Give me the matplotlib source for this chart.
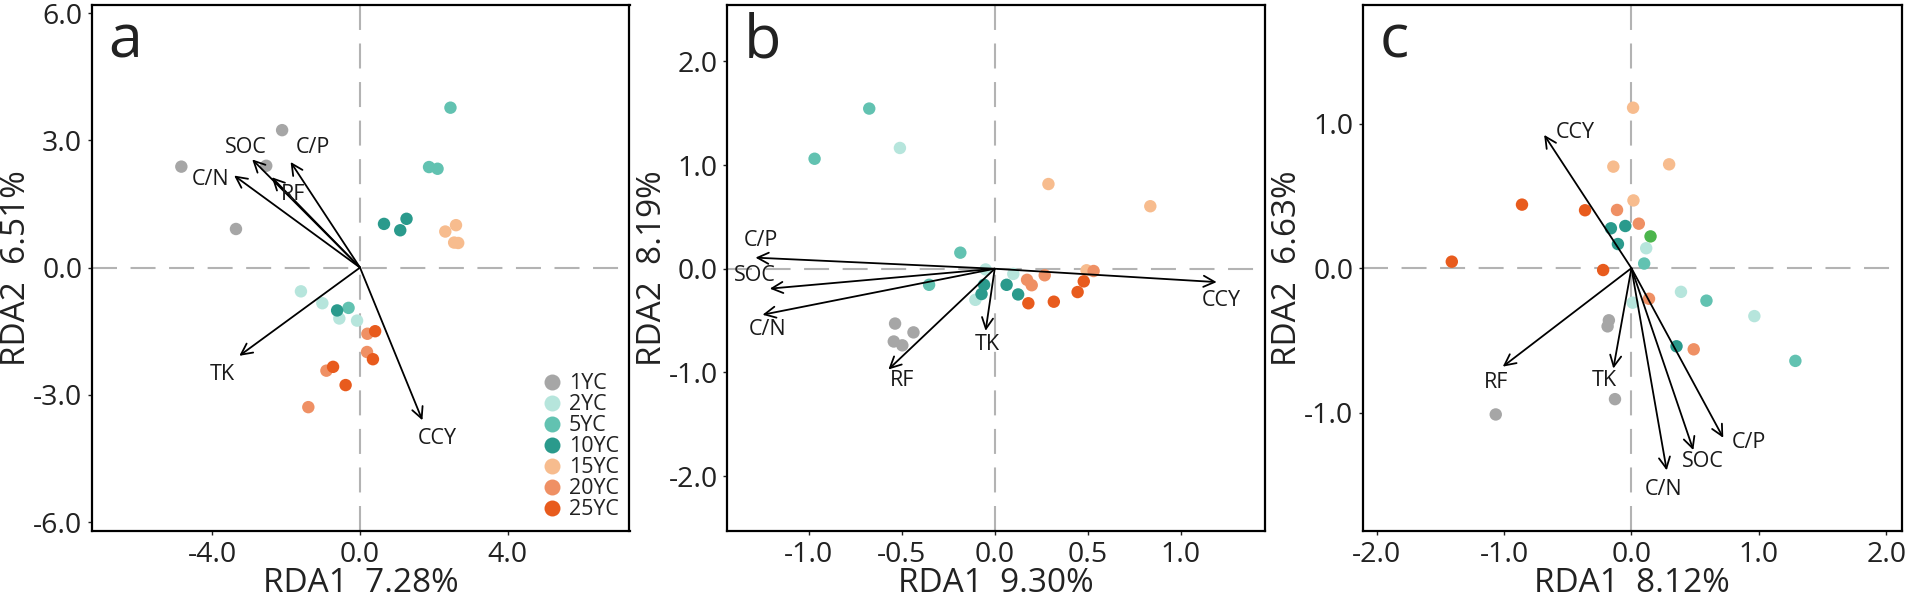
import matplotlib
matplotlib.use("Agg")
import matplotlib.pyplot as plt
from matplotlib.lines import Line2D

plt.rcParams['font.family'] = ['Open Sans', 'DejaVu Sans']

groups = ['1YC', '2YC', '5YC', '10YC', '15YC', '20YC', '25YC']
colors = ['#a6a6a6', '#b6e5dc', '#62c2b1', '#2a9a8c', '#f7bc8e', '#ef9064', '#e85b1d']
odd_color = '#4cb54c'

# ---------------- panel a ----------------
a_x = {
    '1YC': [-2.11, -4.84, -2.54, -3.36],
    '2YC': [-1.60, -1.02, -0.56, -0.08],
    '5YC': [2.45, 1.87, 2.10, -0.31],
    '10YC': [0.65, 1.26, 1.09, -0.62],
    '15YC': [2.60, 2.31, 2.55, 2.66],
    '20YC': [0.20, 0.19, -0.91, -1.40],
    '25YC': [0.41, 0.35, -0.73, -0.39],
}
a_y = {
    '1YC': [3.24, 2.38, 2.40, 0.91],
    '2YC': [-0.56, -0.84, -1.20, -1.25],
    '5YC': [3.77, 2.37, 2.33, -0.95],
    '10YC': [1.03, 1.15, 0.88, -1.01],
    '15YC': [1.00, 0.85, 0.59, 0.58],
    '20YC': [-1.56, -1.99, -2.43, -3.29],
    '25YC': [-1.50, -2.16, -2.34, -2.77],
}
a_vars = ['SOC', 'C/N', 'RF', 'C/P', 'TK', 'CCY']
a_vx = [-2.92, -3.41, -2.39, -1.88, -3.27, 1.69]
a_vy = [2.55, 2.17, 2.13, 2.49, -2.08, -3.60]
a_lx = [-3.10, -4.04, -1.80, -1.28, -3.73, 2.09]
a_ly = [2.83, 2.08, 1.72, 2.83, -2.52, -4.03]

# ---------------- panel b ----------------
b_x = {
    '1YC': [-0.536, -0.437, -0.543, -0.497],
    '2YC': [-0.51, -0.049, 0.10, -0.104],
    '5YC': [-0.675, -0.969, -0.185, -0.353],
    '10YC': [-0.057, -0.071, 0.064, 0.126],
    '15YC': [0.289, 0.837, 0.494],
    '20YC': [0.174, 0.199, 0.269, 0.532],
    '25YC': [0.181, 0.318, 0.479, 0.446],
}
b_y = {
    '1YC': [-0.529, -0.614, -0.702, -0.739],
    '2YC': [1.165, -0.007, -0.05, -0.30],
    '5YC': [1.545, 1.061, 0.155, -0.155],
    '10YC': [-0.155, -0.244, -0.155, -0.248],
    '15YC': [0.817, 0.603, -0.015],
    '20YC': [-0.107, -0.159, -0.063, -0.022],
    '25YC': [-0.333, -0.318, -0.122, -0.225],
}
b_vars = ['C/P', 'SOC', 'C/N', 'RF', 'TK', 'CCY']
b_vx = [-1.287, -1.21, -1.249, -0.572, -0.049, 1.194]
b_vy = [0.107, -0.192, -0.444, -0.972, -0.599, -0.129]
b_lx = [-1.26, -1.29, -1.22, -0.50, -0.04, 1.216]
b_ly = [0.277, -0.067, -0.59, -1.08, -0.73, -0.307]

# ---------------- panel c ----------------
c_x = {
    '1YC': [-0.177, -0.187, -0.129, -1.065],
    '2YC': [0.116, 0.01, 0.389, 0.965],
    '5YC': [0.10, 0.589, 1.287],
    '10YC': [-0.161, -0.048, -0.106, 0.354],
    '15YC': [0.013, -0.142, 0.296, 0.016],
    '20YC': [-0.113, 0.058, 0.138, 0.489],
    '25YC': [-0.859, -0.364, -1.41, -0.222],
}
c_y = {
    '1YC': [-0.361, -0.403, -0.907, -1.013],
    '2YC': [0.138, -0.239, -0.164, -0.332],
    '5YC': [0.032, -0.225, -0.642],
    '10YC': [0.276, 0.292, 0.167, -0.541],
    '15YC': [1.111, 0.703, 0.719, 0.469],
    '20YC': [0.403, 0.308, -0.212, -0.562],
    '25YC': [0.440, 0.401, 0.045, -0.013],
}
c_odd_x = [0.15]
c_odd_y = [0.22]
c_vars = ['CCY', 'RF', 'TK', 'C/N', 'SOC', 'C/P']
c_vx = [-0.685, -1.01, -0.142, 0.277, 0.486, 0.721]
c_vy = [0.923, -0.682, -0.695, -1.40, -1.26, -1.175]
c_lx = [-0.44, -1.059, -0.216, 0.251, 0.557, 0.92]
c_ly = [0.94, -0.79, -0.775, -1.53, -1.34, -1.207]

panels = [
    dict(letter='a', xs=a_x, ys=a_y, vars=a_vars, vx=a_vx, vy=a_vy, lx=a_lx, ly=a_ly,
         xlim=(-7.26, 7.30), ylim=(-6.21, 6.20), xt=[-4.0, 0.0, 4.0], yt=[-6.0, -3.0, 0.0, 3.0, 6.0],
         xlab='RDA1  7.28%', ylab='RDA2  6.51%', left=92, right=629.5),
    dict(letter='b', xs=b_x, ys=b_y, vars=b_vars, vx=b_vx, vy=b_vy, lx=b_lx, ly=b_ly,
         xlim=(-1.438, 1.454), ylim=(-2.53, 2.548), xt=[-1.0, -0.5, 0.0, 0.5, 1.0], yt=[-2.0, -1.0, 0.0, 1.0, 2.0],
         xlab='RDA1  9.30%', ylab='RDA2  8.19%', left=727.4, right=1265),
    dict(letter='c', xs=c_x, ys=c_y, vars=c_vars, vx=c_vx, vy=c_vy, lx=c_lx, ly=c_ly,
         xlim=(-2.107, 2.12), ylim=(-1.82, 1.825), xt=[-2.0, -1.0, 0.0, 1.0, 2.0], yt=[-1.0, 0.0, 1.0],
         xlab='RDA1  8.12%', ylab='RDA2  6.63%', left=1363, right=1901.5),
]

W, H = 1908, 599
fig = plt.figure(figsize=(W / 100, H / 100), dpi=100)
top_px, bot_px = 4.6, 531

for i, p in enumerate(panels):
    ax = fig.add_axes([p['left'] / W, (H - bot_px) / H, (p['right'] - p['left']) / W, (bot_px - top_px) / H])
    ax.set_xlim(*p['xlim'])
    ax.set_ylim(*p['ylim'])
    ax.axhline(0, color='#b3b3b3', lw=1.5, dashes=(12, 6.5), zorder=1)
    ax.axvline(0, color='#b3b3b3', lw=1.5, dashes=(12, 6.5), zorder=1)
    for g, c in zip(groups, colors):
        ax.scatter(p['xs'][g], p['ys'][g], s=80, color=c, edgecolors='none', zorder=3)
    if p['letter'] == 'c':
        ax.scatter(c_odd_x, c_odd_y, s=80, color=odd_color, edgecolors='none', zorder=3)
    for name, vx, vy, lx, ly in zip(p['vars'], p['vx'], p['vy'], p['lx'], p['ly']):
        ax.annotate('', xy=(vx, vy), xytext=(0, 0),
                    arrowprops=dict(arrowstyle='->', lw=1.3, color='black',
                                    mutation_scale=20, shrinkA=0, shrinkB=0), zorder=4)
        ax.text(lx, ly, name, ha='center', va='center', fontsize=15.5, color='#1a1a1a', zorder=5)
    ax.set_xticks(p['xt'])
    ax.set_yticks(p['yt'])
    ax.set_xticklabels([f'{v:.1f}' for v in p['xt']])
    ax.set_yticklabels([f'{v:.1f}' for v in p['yt']])
    ax.tick_params(axis='both', labelsize=20.5, length=3, width=1, pad=4, colors='#222222', labelcolor='#222222')
    for s in ax.spines.values():
        s.set_linewidth(1.6)
        s.set_color('black')
    ax.set_xlabel(p['xlab'], fontsize=24, color='#222222')
    ax.set_ylabel(p['ylab'], fontsize=24, color='#222222')
    ax.xaxis.set_label_coords(0.5, -53 / (bot_px - top_px))
    ax.yaxis.set_label_coords(-75 / (p['right'] - p['left']), 0.5)
    ax.xaxis.label.set_va('center')
    ax.yaxis.label.set_va('center')
    ax.text(0.03, 0.90, p['letter'], transform=ax.transAxes, fontsize=44,
            ha='left', va='baseline', color='#222222')
    if p['letter'] == 'a':
        handles = [Line2D([], [], marker='o', ls='none', markersize=11.5, color=c, markeredgewidth=0)
                   for c in colors]
        ax.legend(handles, groups, loc='lower right', bbox_to_anchor=(1.0, 0.0), frameon=False,
                  fontsize=15.5, handlelength=0.8, handletextpad=0.35, labelspacing=0.0,
                  borderaxespad=0.2, borderpad=0.3, labelcolor='#222222')

fig.savefig('out.png', dpi=100)
